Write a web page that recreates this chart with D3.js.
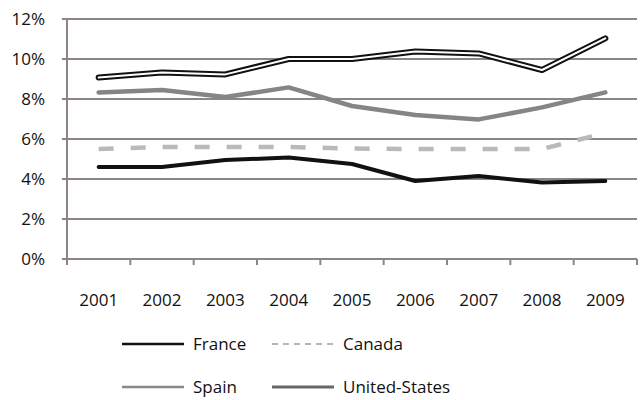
<!DOCTYPE html>
<html lang="en">
<head>
  <meta charset="UTF-8">
  <title>unemployment-lines</title>
  <script src="https://d3js.org/d3.v7.min.js"></script>
  <style>
    body { margin: 0; background: #fff; }
    text { font-family: "Open Sans", sans-serif; fill: #111; }
  </style>
</head>
<body>
<script>
  const WIDTH = 640;
  const HEIGHT = 400;

  const years = ['2001', '2002', '2003', '2004', '2005', '2006', '2007', '2008', '2009'];
  const yTicks = [0, 2, 4, 6, 8, 10, 12];

  const france = [4.6, 4.6, 4.95, 5.07, 4.75, 3.9, 4.15, 3.82, 3.9];
  const canada = [5.5, 5.6, 5.6, 5.6, 5.52, 5.5, 5.5, 5.5, 6.3];
  const spain = [8.33, 8.45, 8.1, 8.58, 7.65, 7.2, 6.98, 7.58, 8.33];
  const unitedStates = [9.07, 9.33, 9.23, 10.0, 10.0, 10.37, 10.28, 9.45, 11.03];

  const margin = { left: 67, right: 3, top: 19, bottom: 141 };

  const x = d3.scaleBand()
    .domain(years)
    .range([margin.left, WIDTH - margin.right])
    .padding(0);

  const y = d3.scaleLinear()
    .domain([0, 12])
    .range([HEIGHT - margin.bottom, margin.top]);

  const svg = d3.select('body')
    .append('svg')
    .attr('width', WIDTH)
    .attr('height', HEIGHT);

  const gridColor = '#8c8581';

  // horizontal grid
  svg.append('g')
    .selectAll('line')
    .data(yTicks)
    .enter()
    .append('line')
    .attr('x1', margin.left - 5)
    .attr('x2', WIDTH - margin.right)
    .attr('y1', d => y(d))
    .attr('y2', d => y(d))
    .attr('stroke', gridColor)
    .attr('stroke-width', 2);

  // left axis line
  svg.append('line')
    .attr('x1', margin.left).attr('x2', margin.left)
    .attr('y1', y(12)).attr('y2', y(0))
    .attr('stroke', gridColor)
    .attr('stroke-width', 2);

  // x ticks at band edges
  const edges = years.map(d => x(d)).concat([x(years[years.length - 1]) + x.bandwidth()]);
  svg.append('g')
    .selectAll('line')
    .data(edges)
    .enter()
    .append('line')
    .attr('x1', d => d).attr('x2', d => d)
    .attr('y1', y(0)).attr('y2', y(0) + 6)
    .attr('stroke', gridColor)
    .attr('stroke-width', 2);

  // y labels
  svg.append('g')
    .selectAll('text')
    .data(yTicks)
    .enter()
    .append('text')
    .attr('x', 45)
    .attr('y', d => y(d) + 6)
    .attr('text-anchor', 'end')
    .attr('font-size', 17)
    .text(d => d + '%');

  // x labels
  svg.append('g')
    .selectAll('text')
    .data(years)
    .enter()
    .append('text')
    .attr('x', d => x(d) + x.bandwidth() / 2)
    .attr('y', 306)
    .attr('text-anchor', 'middle')
    .attr('font-size', 17)
    .text(d => d);

  const line = d3.line()
    .x((d, i) => x(years[i]) + x.bandwidth() / 2)
    .y(d => y(d));

  const series = [
    { name: 'Spain', values: spain, stroke: '#858585', width: 4.5 },
    { name: 'Canada', values: canada, stroke: '#bcb8b5', width: 4.5, dash: '15,17' },
    { name: 'France', values: france, stroke: '#111', width: 4 },
    { name: 'United-States', values: unitedStates, stroke: '#111', width: 6 },
    { name: 'US-inner', values: unitedStates, stroke: '#fff', width: 2 }
  ];

  svg.append('g')
    .selectAll('path')
    .data(series)
    .enter()
    .append('path')
    .attr('d', d => line(d.values))
    .attr('fill', 'none')
    .attr('stroke', d => d.stroke)
    .attr('stroke-width', d => d.width)
    .attr('stroke-dasharray', d => d.dash || null)
    .attr('stroke-linejoin', 'round')
    .attr('stroke-linecap', d => d.dash ? 'butt' : 'round');

  // legend
  const legend = [
    { name: 'France', x: 122, y: 344, stroke: '#111', width: 2.5 },
    { name: 'Canada', x: 272, y: 344, stroke: '#b8b4b1', width: 2, dash: '6,5' },
    { name: 'Spain', x: 122, y: 387, stroke: '#8a8785', width: 2.5 },
    { name: 'United-States', x: 272, y: 387, stroke: '#6a6866', width: 3 }
  ];

  const lg = svg.append('g')
    .selectAll('g')
    .data(legend)
    .enter()
    .append('g');

  lg.append('line')
    .attr('x1', d => d.x).attr('x2', d => d.x + 62)
    .attr('y1', d => d.y).attr('y2', d => d.y)
    .attr('stroke', d => d.stroke)
    .attr('stroke-width', d => d.width)
    .attr('stroke-dasharray', d => d.dash || null);

  lg.append('text')
    .attr('x', d => d.x + 71)
    .attr('y', d => d.y + 6)
    .attr('font-size', 17)
    .text(d => d.name);
</script>
</body>
</html>
